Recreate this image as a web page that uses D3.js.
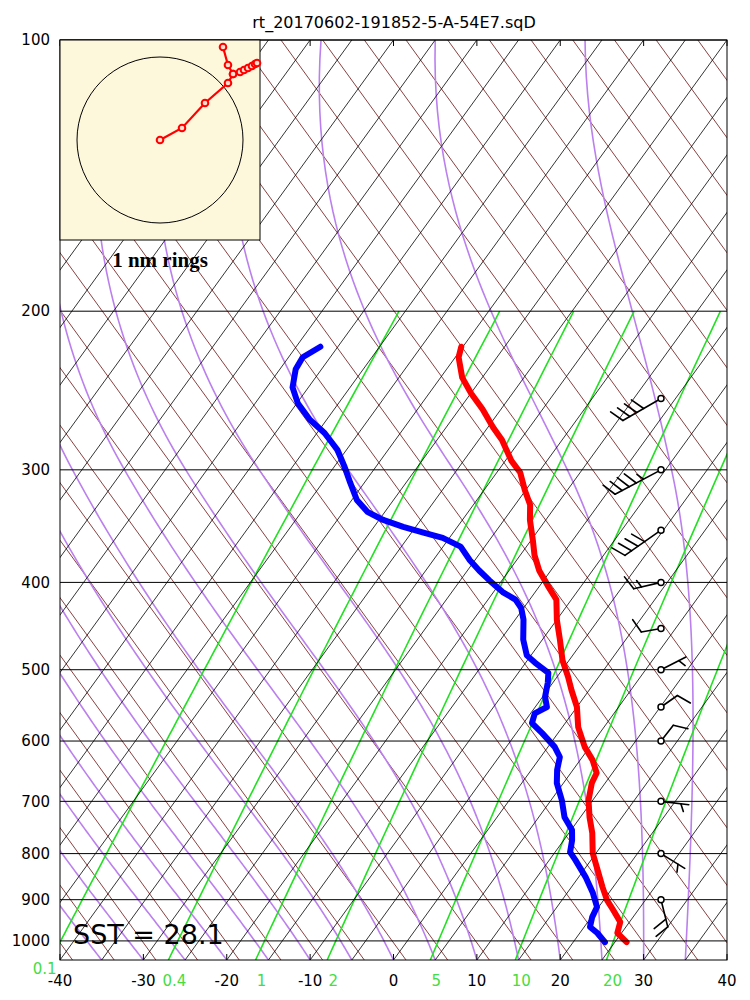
<!DOCTYPE html>
<html><head><meta charset="utf-8">
<script src="https://cdn.jsdelivr.net/npm/d3@7"></script>
<style>body{margin:0;background:#fff;} svg{display:block;font-family:"DejaVu Sans",sans-serif;}</style>
</head><body>
<svg id="c" width="750" height="1000"></svg>
<script>
// ---------------- data ----------------
const title = "rt_20170602-191852-5-A-54E7.sqD";
const pressureTicks = [100,200,300,400,500,600,700,800,900,1000];
const tempTicks = [-40,-30,-20,-10,0,10,20,30,40];
const mixingRatios = [0.1,0.4,1,2,5,10,20];
const mixingLabels = ["0.1","0.4","1","2","5","10","20"];
const moistStarts = [-40,-35,-30,-25,-20,-15,-10,-5,0,5,10,15,20,25,30,35];
const sstValue = 28.1;

const tempP = [1003,980,953,924,901,871,828,799,759,729,698,668,651,630,609,579,550,527,509,488,463,440,418,403,388,373,359,341,328,316,302,293,278,269,257,247,237,225,219];
const tempC = [26.4,24.5,23.9,22.0,20.4,18.7,16.3,14.6,12.8,11.1,9.5,8.4,8.1,6.5,4.4,1.9,0.0,-2.1,-3.7,-5.8,-7.9,-10.0,-11.8,-14.1,-16.4,-18.3,-19.8,-21.9,-23.2,-25.1,-27.2,-29.3,-32.2,-34.4,-37.2,-39.9,-42.4,-44.6,-45.2];

const dewP = [1003,980,965,941,917,885,849,813,797,773,753,729,698,668,646,625,609,588,573,559,550,536,517,504,491,482,463,440,427,418,410,398,388,378,365,357,352,347,341,334,324,310,298,285,273,264,253,243,232,225,219];
const dewC = [23.8,22.1,20.7,20.1,19.8,18.1,15.8,13.1,11.8,11.0,10.1,8.1,6.3,4.2,3.1,2.3,0.8,-1.9,-4.0,-4.5,-3.6,-4.7,-5.6,-6.4,-8.9,-10.5,-12.3,-14.0,-15.3,-16.7,-18.9,-21.5,-23.6,-25.6,-27.9,-30.8,-33.7,-36.5,-39.5,-42.1,-44.4,-46.7,-48.7,-51.1,-54.1,-57.0,-59.9,-61.9,-63.1,-63.3,-62.1];

const windP   = [250,300,350,400,450,500,550,600,700,800,900];
const windDir = [240,242,235,257,260,63,55,38,97,122,166];
const windSpd = [40,45,40,15,10,5,10,10,5,5,20];

// sonde drift track, nautical miles east / north of launch
const driftE = [0,0.265,0.542,0.819,0.880,0.964,1.012,1.060,1.108,1.145,1.169,0.880,0.819,0.759];
const driftN = [0,0.145,0.446,0.687,0.795,0.819,0.843,0.867,0.892,0.916,0.928,0.795,0.904,1.120];
const ringsNm = [1];

// ---------------- layout ----------------
const L=60,R=727,T=40,B=960;
const svg = d3.select("#c");
const x = d3.scaleLinear().domain([-40,40]).range([L,R]);
const y = d3.scaleLog().domain([1050,100]).range([B,T]);
const SKEW = 80/Math.log10(10.5);
const sx = (t,p) => x(t + SKEW*Math.log10(1050/p));

svg.append("defs").append("clipPath").attr("id","plotclip")
  .append("rect").attr("x",L).attr("y",T).attr("width",R-L).attr("height",B-T);
const g = svg.append("g").attr("clip-path","url(#plotclip)");

const line = d3.line().x(d=>sx(d[1],d[0])).y(d=>y(d[0]));
const range = (a,b,s)=>{const r=[];for(let v=a; s>0? v<=b+1e-9 : v>=b-1e-9; v+=s) r.push(v); return r;};

// "dry adiabat" guide lines (drawn straight in this diagram)
range(-200,-40,5).forEach(t=>{
  const tt=t+1.5;
  g.append("path").attr("d",line([[100,tt],[1050,tt+160]])).attr("fill","none").attr("stroke","#7d2b2b").attr("stroke-width",0.9);
});

// moist adiabats
function esat(Tk){const tc=Tk-273.15;return 6.112*Math.exp(17.67*tc/(tc+243.5));}
function lapseFactor(p){return p>=300?1.08:1.08-0.5*Math.log10(300/p)/Math.log10(3);}
function dTdp(p,Tk){const es=esat(Tk);const rs=0.622*es/(p-es);
  const num=287.04*Tk+2.501e6*rs; const den=1005.7+2.501e6*2.501e6*rs*0.622/(287.04*Tk*Tk); return lapseFactor(p)*num/den/p;}
function moist(t0){let p=1050,Tk=t0+273.15;const pts=[[p,t0]];const dp=-5;
  while(p>100){const k1=dTdp(p,Tk),k2=dTdp(p+dp/2,Tk+k1*dp/2),k3=dTdp(p+dp/2,Tk+k2*dp/2),k4=dTdp(p+dp,Tk+k3*dp);
    Tk+=dp*(k1+2*k2+2*k3+k4)/6;p+=dp;pts.push([p,Tk-273.15]);}
  return pts;}
moistStarts.forEach(t0=>{
  g.append("path").attr("d",line(moist(t0))).attr("fill","none").attr("stroke","#bb80ee").attr("stroke-width",1.6);
});

// mixing ratio lines
function tdFromW(w,p){const e=(w/1000)*p/(0.622+w/1000);const l=Math.log(e/6.112);return 243.5*l/(17.67-l);}
mixingRatios.forEach(w=>{
  const pts=range(1050,200,-10).map(p=>[p,tdFromW(w,p)]);
  g.append("path").attr("d",line(pts)).attr("fill","none").attr("stroke","#22e022").attr("stroke-width",1.6);
});

// isotherms
range(-130,40,5).forEach(t=>{
  g.append("path").attr("d",line([[1050,t],[100,t]])).attr("fill","none").attr("stroke","#000").attr("stroke-width",0.8);
});

// isobars
pressureTicks.forEach(p=>{
  svg.append("line").attr("x1",L).attr("x2",R).attr("y1",y(p)).attr("y2",y(p)).attr("stroke","#000").attr("stroke-width",1);
  svg.append("text").attr("x",50).attr("y",y(p)).attr("dy","0.35em").attr("text-anchor","end")
    .attr("font-size",15).text(p);
});

// border and ticks
svg.append("rect").attr("x",L).attr("y",T).attr("width",R-L).attr("height",B-T).attr("fill","none").attr("stroke","#000").attr("stroke-width",1);
tempTicks.forEach(t=>{
  svg.append("line").attr("x1",x(t)).attr("x2",x(t)).attr("y1",B).attr("y2",B-6).attr("stroke","#000");
  svg.append("line").attr("x1",x(t)).attr("x2",x(t)).attr("y1",T).attr("y2",T+6).attr("stroke","#000");
  svg.append("text").attr("x",x(t)).attr("y",986).attr("text-anchor","middle").attr("font-size",15).text(t);
});
mixingRatios.forEach((w,i)=>{
  const lx=sx(tdFromW(w,1050),1050);
  const off = lx<L;
  svg.append("text").attr("x",off? lx-6 : lx+6).attr("y",off?974:986).attr("text-anchor","middle")
    .attr("font-size",15).attr("fill","#44dd44").text(mixingLabels[i]);
});

// profiles
const tData = tempP.map((p,i)=>[p,tempC[i]]);
const dData = dewP.map((p,i)=>[p,dewC[i]]);
g.append("path").attr("d",line(dData)).attr("fill","none").attr("stroke","#0000ff").attr("stroke-width",6)
  .attr("stroke-linejoin","round").attr("stroke-linecap","round");
g.append("path").attr("d",line(tData)).attr("fill","none").attr("stroke","#ff0000").attr("stroke-width",6)
  .attr("stroke-linejoin","round").attr("stroke-linecap","round");

// wind barbs
const barbX = 661;
function barb(cx,cy,dir,spd){
  const a=dir*Math.PI/180; const ux=Math.sin(a), uy=-Math.cos(a);
  let full=Math.floor(spd/10), half=Math.round((spd-full*10)/5);
  const n=full+half; const lone=(full===0&&half===1);
  const sp=8; const Ls=20+sp*Math.max(0,n-1)+(lone?sp:0);
  const bg=svg.append("g").attr("stroke","#000").attr("stroke-width",1.6).attr("fill","none").attr("stroke-linecap","round");
  bg.append("line").attr("x1",cx).attr("y1",cy).attr("x2",cx+ux*Ls).attr("y2",cy+uy*Ls);
  const r=65*Math.PI/180; const fx=ux*Math.cos(r)-uy*Math.sin(r), fy=ux*Math.sin(r)+uy*Math.cos(r);
  let d=Ls - (lone?sp:0);
  for(let i=0;i<full;i++){const bx=cx+ux*d,by=cy+uy*d;bg.append("line").attr("x1",bx).attr("y1",by).attr("x2",bx+fx*15).attr("y2",by+fy*15);d-=sp;}
  for(let i=0;i<half;i++){const bx=cx+ux*d,by=cy+uy*d;bg.append("line").attr("x1",bx).attr("y1",by).attr("x2",bx+fx*8).attr("y2",by+fy*8);d-=sp;}
  svg.append("circle").attr("cx",cx).attr("cy",cy).attr("r",3).attr("fill","#fff").attr("stroke","#000").attr("stroke-width",1.5);
}
windP.forEach((p,i)=>barb(barbX,y(p),windDir[i],windSpd[i]));

// SST text
svg.append("text").attr("x",73).attr("y",944).attr("font-size",27).text("SST = "+sstValue);

// title
svg.append("text").attr("x",394).attr("y",28).attr("text-anchor","middle").attr("font-size",16).text(title);

// drift inset
const ins = svg.append("g");
ins.append("rect").attr("x",L).attr("y",T).attr("width",200).attr("height",200).attr("fill","#fdf7dc").attr("stroke","#000").attr("stroke-width",1);
const hx = d3.scaleLinear().domain([-1.2,1.2]).range([160-99.6,160+99.6]);
const hy = d3.scaleLinear().domain([-1.2,1.2]).range([140+99.6,140-99.6]);
ringsNm.forEach(r=>{
  ins.append("circle").attr("cx",hx(0)).attr("cy",hy(0)).attr("r",hx(r)-hx(0)).attr("fill","none").attr("stroke","#000").attr("stroke-width",1);
});
const drift = driftE.map((e,i)=>[e,driftN[i]]);
ins.append("path").attr("d",d3.line().x(d=>hx(d[0])).y(d=>hy(d[1]))(drift)).attr("fill","none").attr("stroke","#ff0000").attr("stroke-width",2.2);
ins.selectAll("circle.pt").data(drift).enter().append("circle").attr("class","pt")
  .attr("cx",d=>hx(d[0])).attr("cy",d=>hy(d[1])).attr("r",3.3).attr("fill","#fbe0d0").attr("stroke","#ff0000").attr("stroke-width",2);
svg.append("text").attr("x",160).attr("y",267).attr("text-anchor","middle").attr("font-family","'Liberation Serif',serif")
  .attr("font-weight","bold").attr("font-size",21).text("1 nm rings");
</script>
</body></html>
